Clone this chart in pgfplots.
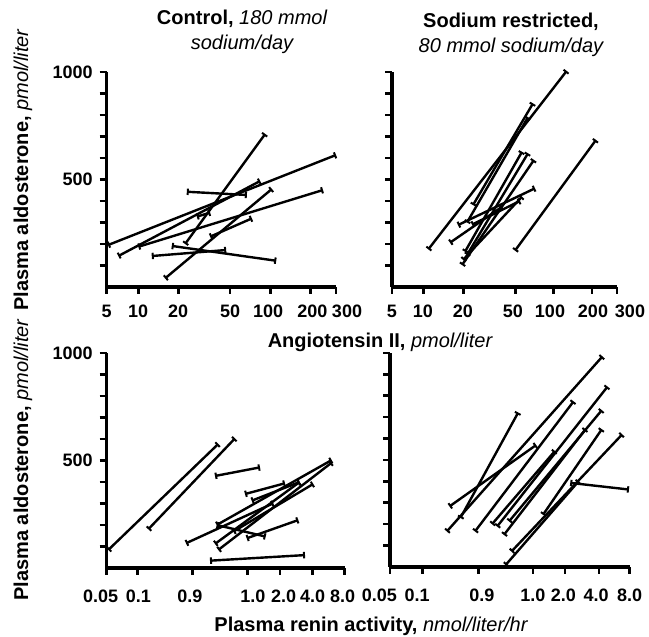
\documentclass[border=0pt]{standalone}
\usepackage{fontspec}
\setmainfont{Liberation Sans}
\usepackage{pgfplots}
\pgfplotsset{compat=1.18}
\usetikzlibrary{arrows.meta}

% x values are positions along each (non-uniform) printed x axis
\pgfplotsset{
  panel/.style={
    scale only axis, clip=false,
    axis lines=left, axis line style={-, line width=1.8pt},
    tick style={line width=1.3pt, black},
    tick align=outside, major tick length=3.5pt,
    ymin=0, ymax=1000, xmin=0,
    ytick={100,200,...,1000},
    xticklabels={},
    tick label style={font=\fontsize{9}{10}\selectfont\bfseries},
  },
  seg/.style={black, line width=1.2pt,
    {Bar[width=3.2pt,line width=1pt]}-{Bar[width=3.2pt,line width=1pt]}},
}
\tikzset{
  xt/.style={font=\fontsize{9}{10}\selectfont\bfseries, yshift=-12pt, inner sep=0pt},
  xb/.style={font=\fontsize{9}{10}\selectfont\bfseries, yshift=-14pt, inner sep=0pt},
}

\begin{document}
\begin{tikzpicture}
\path (0,0) rectangle (324.5pt,318.5pt);

% ---- top left: control, angiotensin II
\begin{axis}[panel, at={(53.35pt,175pt)}, anchor=south west,
  width=114.65pt, height=107.5pt, xmax=229,
  xtick={0,31.6,71.6,123.3,163.3,203.3,229},
  yticklabels={,,,,500,,,,,1000}]
\addplot[seg] coordinates {(1.3,195) (229,614)};
\addplot[seg] coordinates {(11.6,144) (153.3,493)};
\addplot[seg] coordinates {(31.6,187) (216,451)};
\addplot[seg] coordinates {(78.3,200) (158.3,712)};
\addplot[seg] coordinates {(80,443) (140,428)};
\addplot[seg] coordinates {(58.3,40) (165,456)};
\addplot[seg] coordinates {(103.3,234) (145,319)};
\addplot[seg] coordinates {(45,144) (119.3,172)};
\addplot[seg] coordinates {(65,191) (169.3,122)};
\addplot[seg] coordinates {(90,327) (103.3,346)};
\node[xt] at (axis cs:0,0) {5};
\node[xt] at (axis cs:31.3,0) {10};
\node[xt] at (axis cs:71.3,0) {20};
\node[xt] at (axis cs:123.3,0) {50};
\node[xt] at (axis cs:161.3,0) {100};
\node[xt] at (axis cs:205.3,0) {200};
\node[xt] at (axis cs:240,0) {300};
\end{axis}

% ---- top right: sodium restricted, angiotensin II
\begin{axis}[panel, at={(196pt,175pt)}, anchor=south west,
  width=112.5pt, height=107.5pt, xmax=225,
  xtick={0,31.6,71.6,123.3,161.6,200,225},
  yticklabels={}]
\addplot[seg] coordinates {(36.3,175) (174.7,1005)};
\addplot[seg] coordinates {(123,169) (204,684)};
\addplot[seg] coordinates {(58,206) (110,373)};
\addplot[seg] coordinates {(66,288) (143,459)};
\addplot[seg] coordinates {(81,381) (141,854)};
\addplot[seg] coordinates {(75,300) (136,790)};
\addplot[seg] coordinates {(73,164) (130,629)};
\addplot[seg] coordinates {(75,149) (136,622)};
\addplot[seg] coordinates {(70,102) (142,591)};
\addplot[seg] coordinates {(71,126) (130,420)};
\addplot[seg] coordinates {(80,290) (128,400)};
\node[xt] at (axis cs:0,0) {5};
\node[xt] at (axis cs:31,0) {10};
\node[xt] at (axis cs:71,0) {20};
\node[xt] at (axis cs:121,0) {50};
\node[xt] at (axis cs:158,0) {100};
\node[xt] at (axis cs:201,0) {200};
\node[xt] at (axis cs:238,0) {300};
\end{axis}

% ---- bottom left: control, plasma renin activity
\begin{axis}[panel, at={(53.35pt,34.5pt)}, anchor=south west,
  width=119pt, height=107.5pt, xmax=238,
  xtick={0,31,86,141,173.3,205.6,238},
  yticklabels={,,,,500,,,,,1000}]
\addplot[seg] coordinates {(1.6,84) (111.6,577)};
\addplot[seg] coordinates {(41.6,180) (128.3,603)};
\addplot[seg] coordinates {(108.3,428) (153.3,468)};
\addplot[seg] coordinates {(138.3,344) (178.3,394)};
\addplot[seg] coordinates {(145,313) (193,400)};
\addplot[seg] coordinates {(79.3,115) (166.6,301)};
\addplot[seg] coordinates {(110,200) (225,502)};
\addplot[seg] coordinates {(126.6,169) (206.6,391)};
\addplot[seg] coordinates {(108.3,112) (193,400)};
\addplot[seg] coordinates {(111.6,84) (225,490)};
\addplot[seg] coordinates {(140,138) (191.6,223)};
\addplot[seg] coordinates {(110,200) (159,146)};
\addplot[seg] coordinates {(103.3,34) (198.3,60)};
\node[xb] at (axis cs:-6,0) {0.05};
\node[xb] at (axis cs:31.8,0) {0.1};
\node[xb] at (axis cs:83.3,0) {0.9};
\node[xb] at (axis cs:146.3,0) {1.0};
\node[xb] at (axis cs:177,0) {2.0};
\node[xb] at (axis cs:206,0) {4.0};
\node[xb] at (axis cs:236,0) {8.0};
\end{axis}

% ---- bottom right: sodium restricted, plasma renin activity
\begin{axis}[panel, at={(195pt,35pt)}, anchor=south west,
  width=117.5pt, height=107pt, xmax=235,
  xtick={0,31.7,86.7,140,171.7,205,235},
  yticklabels={}]
\addplot[seg] coordinates {(55.7,166) (208.3,984)};
\addplot[seg] coordinates {(69,229) (125.7,722)};
\addplot[seg] coordinates {(58.3,283) (143.3,570)};
\addplot[seg] coordinates {(83.3,166) (180,774)};
\addplot[seg] coordinates {(105,189) (213.3,843)};
\addplot[seg] coordinates {(116.7,213) (207.7,733)};
\addplot[seg] coordinates {(111.7,150) (191.7,644)};
\addplot[seg] coordinates {(150,244) (207.7,644)};
\addplot[seg] coordinates {(119,72) (227.7,620)};
\addplot[seg] coordinates {(113.3,9) (185,401)};
\addplot[seg] coordinates {(176.7,393) (234.3,362)};
\addplot[seg] coordinates {(100,200) (161.7,542)};
\node[xb] at (axis cs:-10.5,0) {0.05};
\node[xb] at (axis cs:26.5,0) {0.1};
\node[xb] at (axis cs:90,0) {0.9};
\node[xb] at (axis cs:140,0) {1.0};
\node[xb] at (axis cs:170,0) {2.0};
\node[xb] at (axis cs:202,0) {4.0};
\node[xb] at (axis cs:235,0) {8.0};
\end{axis}

% titles and axis labels
\begin{scope}[font=\fontsize{10}{12.5}\selectfont\bfseries, every node/.style={inner sep=0pt}]
\node[align=center] at (121pt,302.5pt) {Control, {\mdseries\itshape 180 mmol}\\{\mdseries\itshape sodium/day}};
\node[align=center] at (255.5pt,301pt) {Sodium restricted,\\{\mdseries\itshape 80 mmol sodium/day}};
\node[rotate=90] at (11.5pt,233.5pt) {Plasma aldosterone, {\mdseries\itshape pmol/liter}};
\node[rotate=90] at (11.5pt,88.5pt) {Plasma aldosterone, {\mdseries\itshape pmol/liter}};
\node at (190pt,147.5pt) {Angiotensin II, {\mdseries\itshape pmol/liter}};
\node at (185.5pt,5.5pt) {Plasma renin activity, {\mdseries\itshape nmol/liter/hr}};
\end{scope}
\end{tikzpicture}
\end{document}
